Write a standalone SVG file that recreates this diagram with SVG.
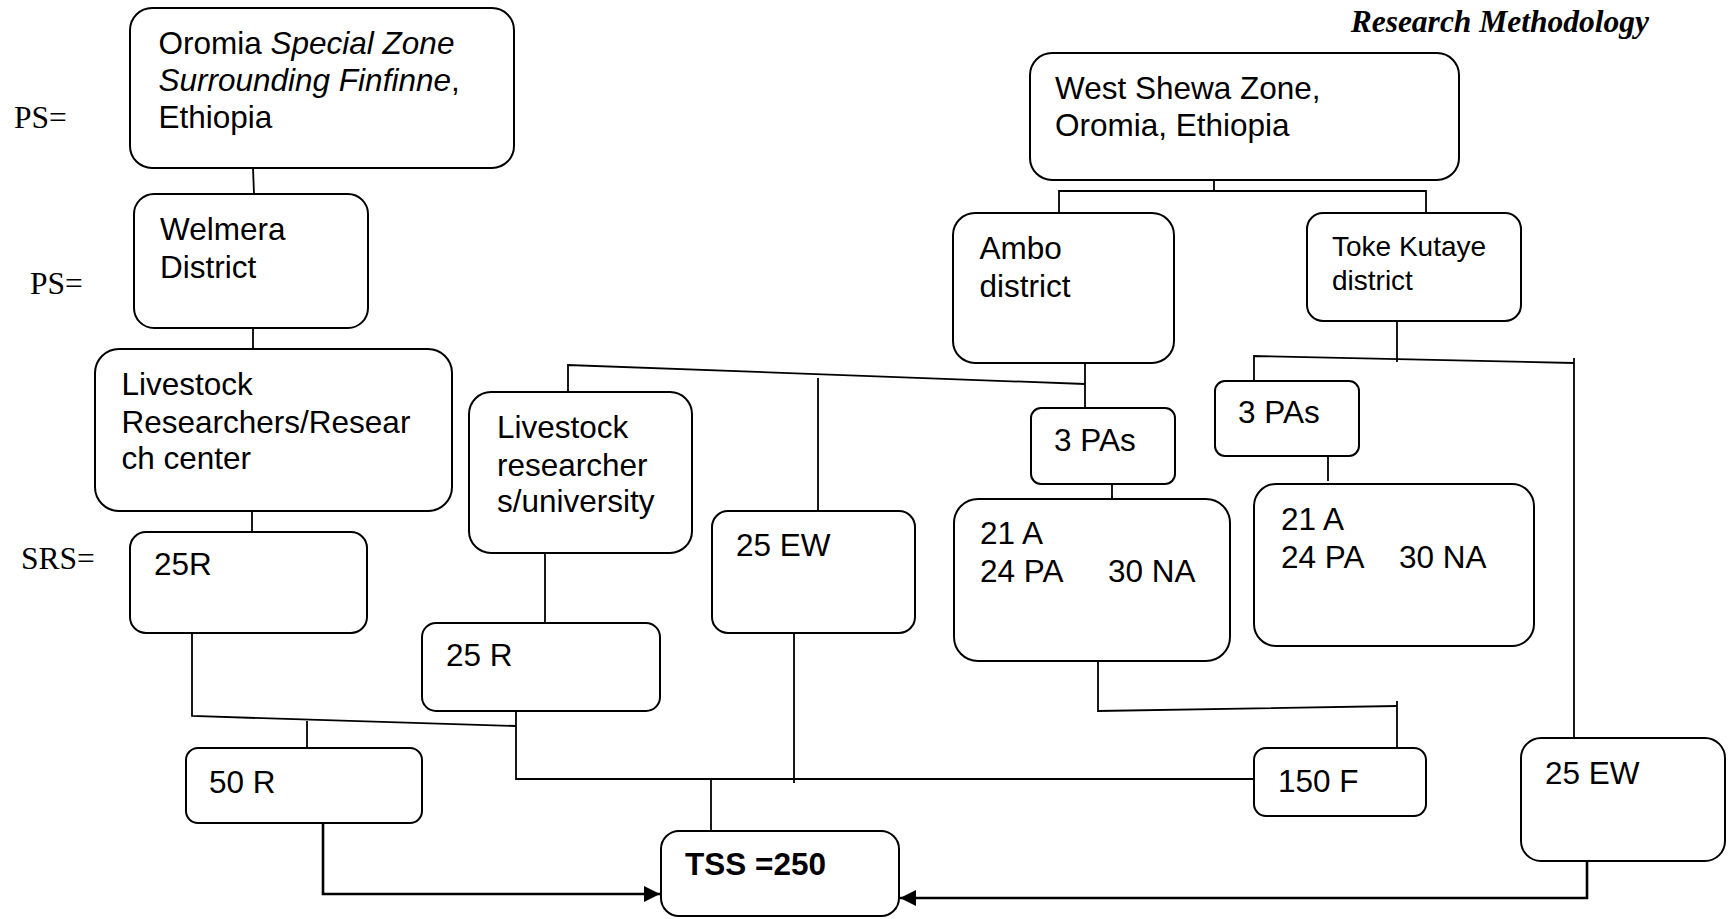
<svg xmlns="http://www.w3.org/2000/svg" width="1731" height="919" viewBox="0 0 1731 919">
<style>
.box{fill:#fff;stroke:#000;stroke-width:2}
.t{font-family:"Liberation Sans",Arial,sans-serif;font-size:31.5px;fill:#000}
.s{font-size:28px}
.b{font-weight:bold}
.i{font-style:italic}
.tm{font-family:"Liberation Serif","Times New Roman",serif;font-size:31.5px;fill:#000}
.c{fill:none;stroke:#000;stroke-width:1.8}
.a{fill:none;stroke:#000;stroke-width:2.6}
</style>
<defs>
<marker id="arr" markerUnits="userSpaceOnUse" markerWidth="17" markerHeight="16" refX="16" refY="8" orient="auto">
<path d="M0,0 L16,8 L0,16 z" fill="#000"/>
</marker>
</defs>
<rect width="1731" height="919" fill="#fff"/>
<text class="tm b i" x="1649" y="32" text-anchor="end">Research Methodology</text>
<text class="tm" x="14" y="128">PS=</text>
<text class="tm" x="30" y="294">PS=</text>
<text class="tm" x="21" y="569">SRS=</text>
<g id="connectors">
<path class="c" d="M253,168 L254,194"/>
<path class="c" d="M253,328 L253,349"/>
<path class="c" d="M252,511 L252,532"/>
<path class="c" d="M192,629 L192,716 L516,726"/>
<path class="c" d="M516,711 L516,779 L1254,779"/>
<path class="c" d="M307,721 L307,748"/>
<path class="c" d="M545,553 L545,629"/>
<path class="c" d="M568,392 L568,365 L1085,384"/>
<path class="c" d="M1085,363 L1085,408"/>
<path class="c" d="M818,378 L818,511"/>
<path class="c" d="M1112,484 L1112,499"/>
<path class="c" d="M1214,180 L1214,191"/>
<path class="c" d="M1059,213 L1059,191 L1426,191 L1426,213"/>
<path class="c" d="M1397,321 L1397,362"/>
<path class="c" d="M1254,381 L1254,356 L1574,363"/>
<path class="c" d="M1574,358 L1574,738"/>
<path class="c" d="M1328,456 L1328,481"/>
<path class="c" d="M1098,661 L1098,711 L1397,706"/>
<path class="c" d="M1397,701 L1397,753"/>
<path class="c" d="M794,633 L794,783"/>
<path class="c" d="M711,779 L711,831"/>
<path class="a" d="M323,823 L323,894 L660,894" marker-end="url(#arr)"/>
<path class="a" d="M1587,861 L1587,898 L900,898" marker-end="url(#arr)"/>
</g>
<g id="oromia"><rect class="box" x="130" y="8" width="384" height="160" rx="22"/>
<text class="t" x="158.5" y="54">Oromia <tspan class="i">Special Zone</tspan></text>
<text class="t" x="158.5" y="91"><tspan class="i">Surrounding Finfinne</tspan>,</text>
<text class="t" x="158.5" y="128">Ethiopia</text></g>
<g id="welmera"><rect class="box" x="134" y="194" width="234" height="134" rx="20"/>
<text class="t" x="160" y="240">Welmera</text><text class="t" x="160" y="278">District</text></g>
<g id="research-center"><rect class="box" x="95" y="349" width="357" height="162" rx="24"/>
<text class="t" x="121.5" y="395">Livestock</text><text class="t" x="121.5" y="433">Researchers/Resear</text><text class="t" x="121.5" y="469">ch center</text></g>
<g id="r25-center"><rect class="box" x="130" y="532" width="237" height="101" rx="16"/>
<text class="t" x="154" y="575">25R</text></g>
<g id="university"><rect class="box" x="469" y="392" width="223" height="161" rx="22"/>
<text class="t" x="497" y="438">Livestock</text><text class="t" x="497" y="476">researcher</text><text class="t" x="497" y="512">s/university</text></g>
<g id="r25-univ"><rect class="box" x="422" y="623" width="238" height="88" rx="14"/>
<text class="t" x="446" y="666">25 R</text></g>
<g id="r50"><rect class="box" x="186" y="748" width="236" height="75" rx="12"/>
<text class="t" x="209" y="793">50 R</text></g>
<g id="ew25-mid"><rect class="box" x="712" y="511" width="203" height="122" rx="16"/>
<text class="t" x="736" y="556">25 EW</text></g>
<g id="west-shewa"><rect class="box" x="1030" y="53" width="429" height="127" rx="22"/>
<text class="t" x="1055" y="99">West Shewa Zone,</text><text class="t" x="1055" y="136">Oromia, Ethiopia</text></g>
<g id="ambo"><rect class="box" x="953" y="213" width="221" height="150" rx="22"/>
<text class="t" x="979.5" y="259">Ambo</text><text class="t" x="979.5" y="297">district</text></g>
<g id="toke"><rect class="box" x="1307" y="213" width="214" height="108" rx="16"/>
<text class="t s" x="1332" y="256">Toke Kutaye</text><text class="t s" x="1332" y="290">district</text></g>
<g id="pas-ambo"><rect class="box" x="1031" y="408" width="144" height="76" rx="10"/>
<text class="t" x="1054" y="451">3 PAs</text></g>
<g id="pas-toke"><rect class="box" x="1215" y="381" width="144" height="75" rx="10"/>
<text class="t" x="1238" y="423">3 PAs</text></g>
<g id="farmers-ambo"><rect class="box" x="954" y="499" width="276" height="162" rx="24"/>
<text class="t" x="980" y="544">21 A</text><text class="t" x="980" y="582">24 PA</text><text class="t" x="1108" y="582">30 NA</text></g>
<g id="farmers-toke"><rect class="box" x="1254" y="484" width="280" height="162" rx="22"/>
<text class="t" x="1281" y="530">21 A</text><text class="t" x="1281" y="568">24 PA</text><text class="t" x="1399" y="568">30 NA</text></g>
<g id="f150"><rect class="box" x="1254" y="748" width="172" height="68" rx="12"/>
<text class="t" x="1278" y="792">150 F</text></g>
<g id="ew25-right"><rect class="box" x="1521" y="738" width="204" height="123" rx="20"/>
<text class="t" x="1545" y="784">25 EW</text></g>
<g id="tss"><rect class="box" x="661" y="831" width="238" height="85" rx="18"/>
<text class="t b" x="685" y="875">TSS =250</text></g>
</svg>
